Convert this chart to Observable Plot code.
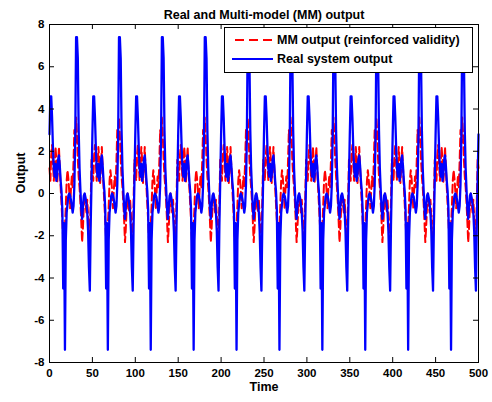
<!DOCTYPE html>
<html><head><meta charset="utf-8">
<script src="https://cdn.jsdelivr.net/npm/d3@7"></script>
<script src="https://cdn.jsdelivr.net/npm/@observablehq/plot@0.6"></script>
<style>
html,body{margin:0;padding:0;background:#fff;}
#chart{width:492px;height:402px;}
</style></head><body><div id="chart"></div>
<script>
const title = "Real and Multi-model (MM) output";
const xLabel = "Time";
const yLabel = "Output";
const seriesNames = ["MM output (reinforced validity)", "Real system output"];
const seriesColors = ["#ff0000", "#0000ff"];
const xTicks = [0, 50, 100, 150, 200, 250, 300, 350, 400, 450, 500];
const yTicks = [-8, -6, -4, -2, 0, 2, 4, 6, 8];
const cycleStarts = [0, 50, 100, 150, 200, 250, 300, 350, 400, 450];
const endTime = 500;

// one cycle (50 time steps) of the real system output
const realCycle = [
  2.8, 4.6, 4.6, 3.6, 2.2, 1.2, 0.8, 1.4, 0.6, 0.9,
  1.6, 1.8, 1.3, 0.6, 0.1, -0.8, -4.5, -1.4, -7.4, -2.2,
  -0.9, -0.5, -0.1, 0.0, -0.1, -0.3, -0.6, -0.9, -0.6, 0.4,
  2.6, 7.4, 7.4, 6.4, 3.0, 1.2, 0.2, -0.7, -1.2, -0.6,
  -0.1, 0.0, -0.2, -0.5, -0.9, -1.8, -3.5, -4.6, -1.5, 0.6
];
// one cycle of the multi-model output
const mmCycle = [
  1.2, 0.6, 1.8, 2.3, 1.5, 0.6, 1.2, 2.2, 1.6, 0.5,
  1.3, 2.2, 1.2, 0.3, -0.5, -1.3, -2.2, -2.6, -1.6, -0.6,
  0.6, 1.1, 0.7, 0.1, -0.7, 0.2, 0.8, 0.3, 1.5, 3.0,
  2.4, 3.6, 2.8, 1.6, 0.8, 0.3, -0.4, -1.3, -2.3, -1.6,
  -0.6, 0.0, -0.5, -0.9, -0.3, -1.1, -2.0, -2.2, -0.4, 1.6
];

function buildSeries(cycle) {
  const rows = [];
  for (const s of cycleStarts) cycle.forEach((v, i) => rows.push({t: s + i, v}));
  rows.push({t: endTime, v: cycle[0]});
  return rows;
}
const mmData = buildSeries(mmCycle);
const realData = buildSeries(realCycle);

const W = 492, H = 402, ML = 49, MR = 14, MT = 24, MB = 40;
const FW = W - ML - MR, FH = H - MT - MB, TL = 5;
const font = "'Liberation Sans', Arial, Helvetica, sans-serif";

const svg = Plot.plot({
  width: W, height: H,
  marginLeft: ML, marginRight: MR, marginTop: MT, marginBottom: MB,
  x: {domain: [0, 500]},
  y: {domain: [-8, 8]},
  style: {fontFamily: font, fontWeight: "bold", fontSize: "11.5px", background: "#fff", color: "#000"},
  marks: [
    Plot.lineY(mmData, {x: "t", y: "v", stroke: seriesColors[0], strokeWidth: 2, strokeDasharray: "8,4"}),
    Plot.lineY(realData, {x: "t", y: "v", stroke: seriesColors[1], strokeWidth: 2.3}),
    Plot.frame({stroke: "#000", strokeWidth: 1}),
    Plot.tickX(xTicks, {x: d => d, insetTop: FH - TL, stroke: "#000"}),
    Plot.tickX(xTicks, {x: d => d, insetBottom: FH - TL, stroke: "#000"}),
    Plot.tickY(yTicks, {y: d => d, insetRight: FW - TL, stroke: "#000"}),
    Plot.tickY(yTicks, {y: d => d, insetLeft: FW - TL, stroke: "#000"}),
    Plot.axisX({ticks: xTicks, tickSize: 0, tickPadding: 6, label: null, tickFormat: d => String(d)}),
    Plot.axisY({ticks: yTicks, tickSize: 0, tickPadding: 5, label: null, tickFormat: d => String(d)}),
    Plot.text([xLabel], {text: d => d, frameAnchor: "bottom", dy: 28, fontSize: 12.5, fontWeight: "bold"}),
    Plot.text([yLabel], {text: d => d, frameAnchor: "left", dx: -29, rotate: -90, fontSize: 12.5, fontWeight: "bold"}),
    Plot.text([title], {text: d => d, frameAnchor: "top", dy: -14, fontSize: 12.5, fontWeight: "bold"})
  ]
});

// legend box (top-right, MATLAB style)
const ns = "http://www.w3.org/2000/svg";
const g = d3.select(svg).append("g")
  .attr("font-family", font).attr("font-weight", "bold").attr("font-size", "12.5px")
  .attr("text-anchor", "start");
g.append("rect").attr("x", 224.5).attr("y", 27.5).attr("width", 248).attr("height", 45)
  .attr("fill", "#fff").attr("stroke", "#000").attr("stroke-width", 1);
const rowsY = [40, 59];
seriesNames.forEach((name, i) => {
  g.append("path")
    .attr("d", `M${i === 0 ? 235 : 232},${rowsY[i]}H273`)
    .attr("fill", "none")
    .attr("stroke", seriesColors[i]).attr("stroke-width", 2)
    .attr("stroke-dasharray", i === 0 ? "9,5" : "none");
  g.append("text").attr("x", 277).attr("y", rowsY[i]).attr("dy", "0.35em")
    .attr("text-anchor", "start").attr("fill", "#000").text(name);
});

document.getElementById("chart").appendChild(svg);
</script>
</body></html>
